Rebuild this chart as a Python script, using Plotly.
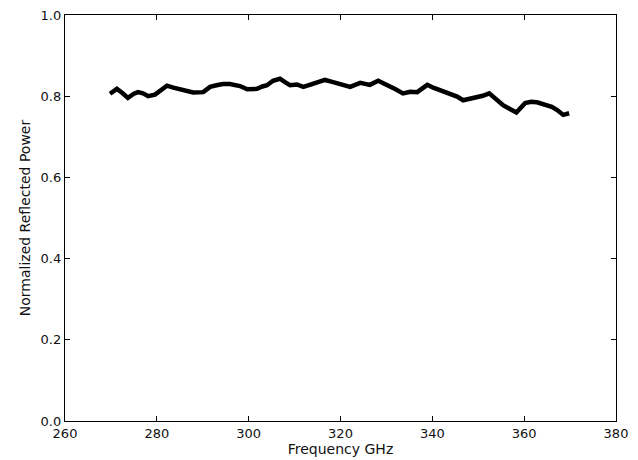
import plotly.graph_objects as go

freq_ghz = [269.8, 271.3, 272.5, 273.7, 275.0, 275.9, 277.0, 278.1, 279.6, 281.0, 282.2, 283.6, 285.1, 286.5,
            287.9, 290.1, 291.6, 293.0, 294.4, 295.9, 298.1, 299.7, 301.8, 303.0, 304.0, 305.3, 306.8,
            308.0, 309.0, 310.5, 311.9, 313.8, 315.6, 316.6, 318.0, 319.3, 320.7, 322.1, 324.3, 326.4,
            328.2, 330.4, 332.0, 333.6, 335.2, 336.7, 338.9, 340.2, 342.4, 344.0, 345.4, 346.7, 348.2,
            349.8, 351.0, 352.4, 354.0, 355.4, 357.0, 358.3, 360.2, 361.5, 362.8, 364.6, 366.0, 367.2,
            368.5, 369.8]
reflected = [0.806, 0.818, 0.808, 0.796, 0.806, 0.810, 0.807, 0.800, 0.804, 0.815, 0.826, 0.821, 0.816, 0.812,
             0.809, 0.810, 0.823, 0.827, 0.830, 0.830, 0.825, 0.817, 0.818, 0.824, 0.827, 0.838, 0.843,
             0.834, 0.827, 0.829, 0.823, 0.830, 0.838, 0.840, 0.836, 0.832, 0.828, 0.823, 0.833, 0.828,
             0.838, 0.827, 0.817, 0.807, 0.811, 0.810, 0.828, 0.821, 0.811, 0.805, 0.799, 0.790, 0.794,
             0.797, 0.801, 0.807, 0.792, 0.778, 0.768, 0.760, 0.783, 0.786, 0.785, 0.778, 0.774, 0.766,
             0.754, 0.758]

x_ticks = [260, 280, 300, 320, 340, 360, 380]
y_ticks = [0.0, 0.2, 0.4, 0.6, 0.8, 1.0]

fig = go.Figure()
fig.add_trace(go.Scatter(
    x=freq_ghz, y=reflected, mode="lines",
    line=dict(color="black", width=4.5),
    showlegend=False,
))

axis_common = dict(
    showgrid=False, zeroline=False, showline=True, linecolor="black", linewidth=1.3,
    mirror="allticks", ticks="inside", ticklen=5, tickcolor="black", tickwidth=1,
    tickfont=dict(family="DejaVu Sans", size=13, color="#111"),
    automargin=False,
)

fig.update_layout(
    width=638, height=460,
    margin=dict(l=65, r=22, t=15, b=39),
    paper_bgcolor="white", plot_bgcolor="white",
    font=dict(family="DejaVu Sans", color="#111"),
    xaxis=dict(range=[260, 380], tickvals=x_ticks, ticktext=[str(v) for v in x_ticks],
               title=dict(text="Frequency GHz", font=dict(size=14), standoff=2), **axis_common),
    yaxis=dict(range=[0, 1.0], tickvals=y_ticks, ticktext=[f"{v:.1f}" for v in y_ticks],
               title=dict(text="Normalized Reflected Power", font=dict(size=14), standoff=6), **axis_common),
)

fig.write_html("out.html")
